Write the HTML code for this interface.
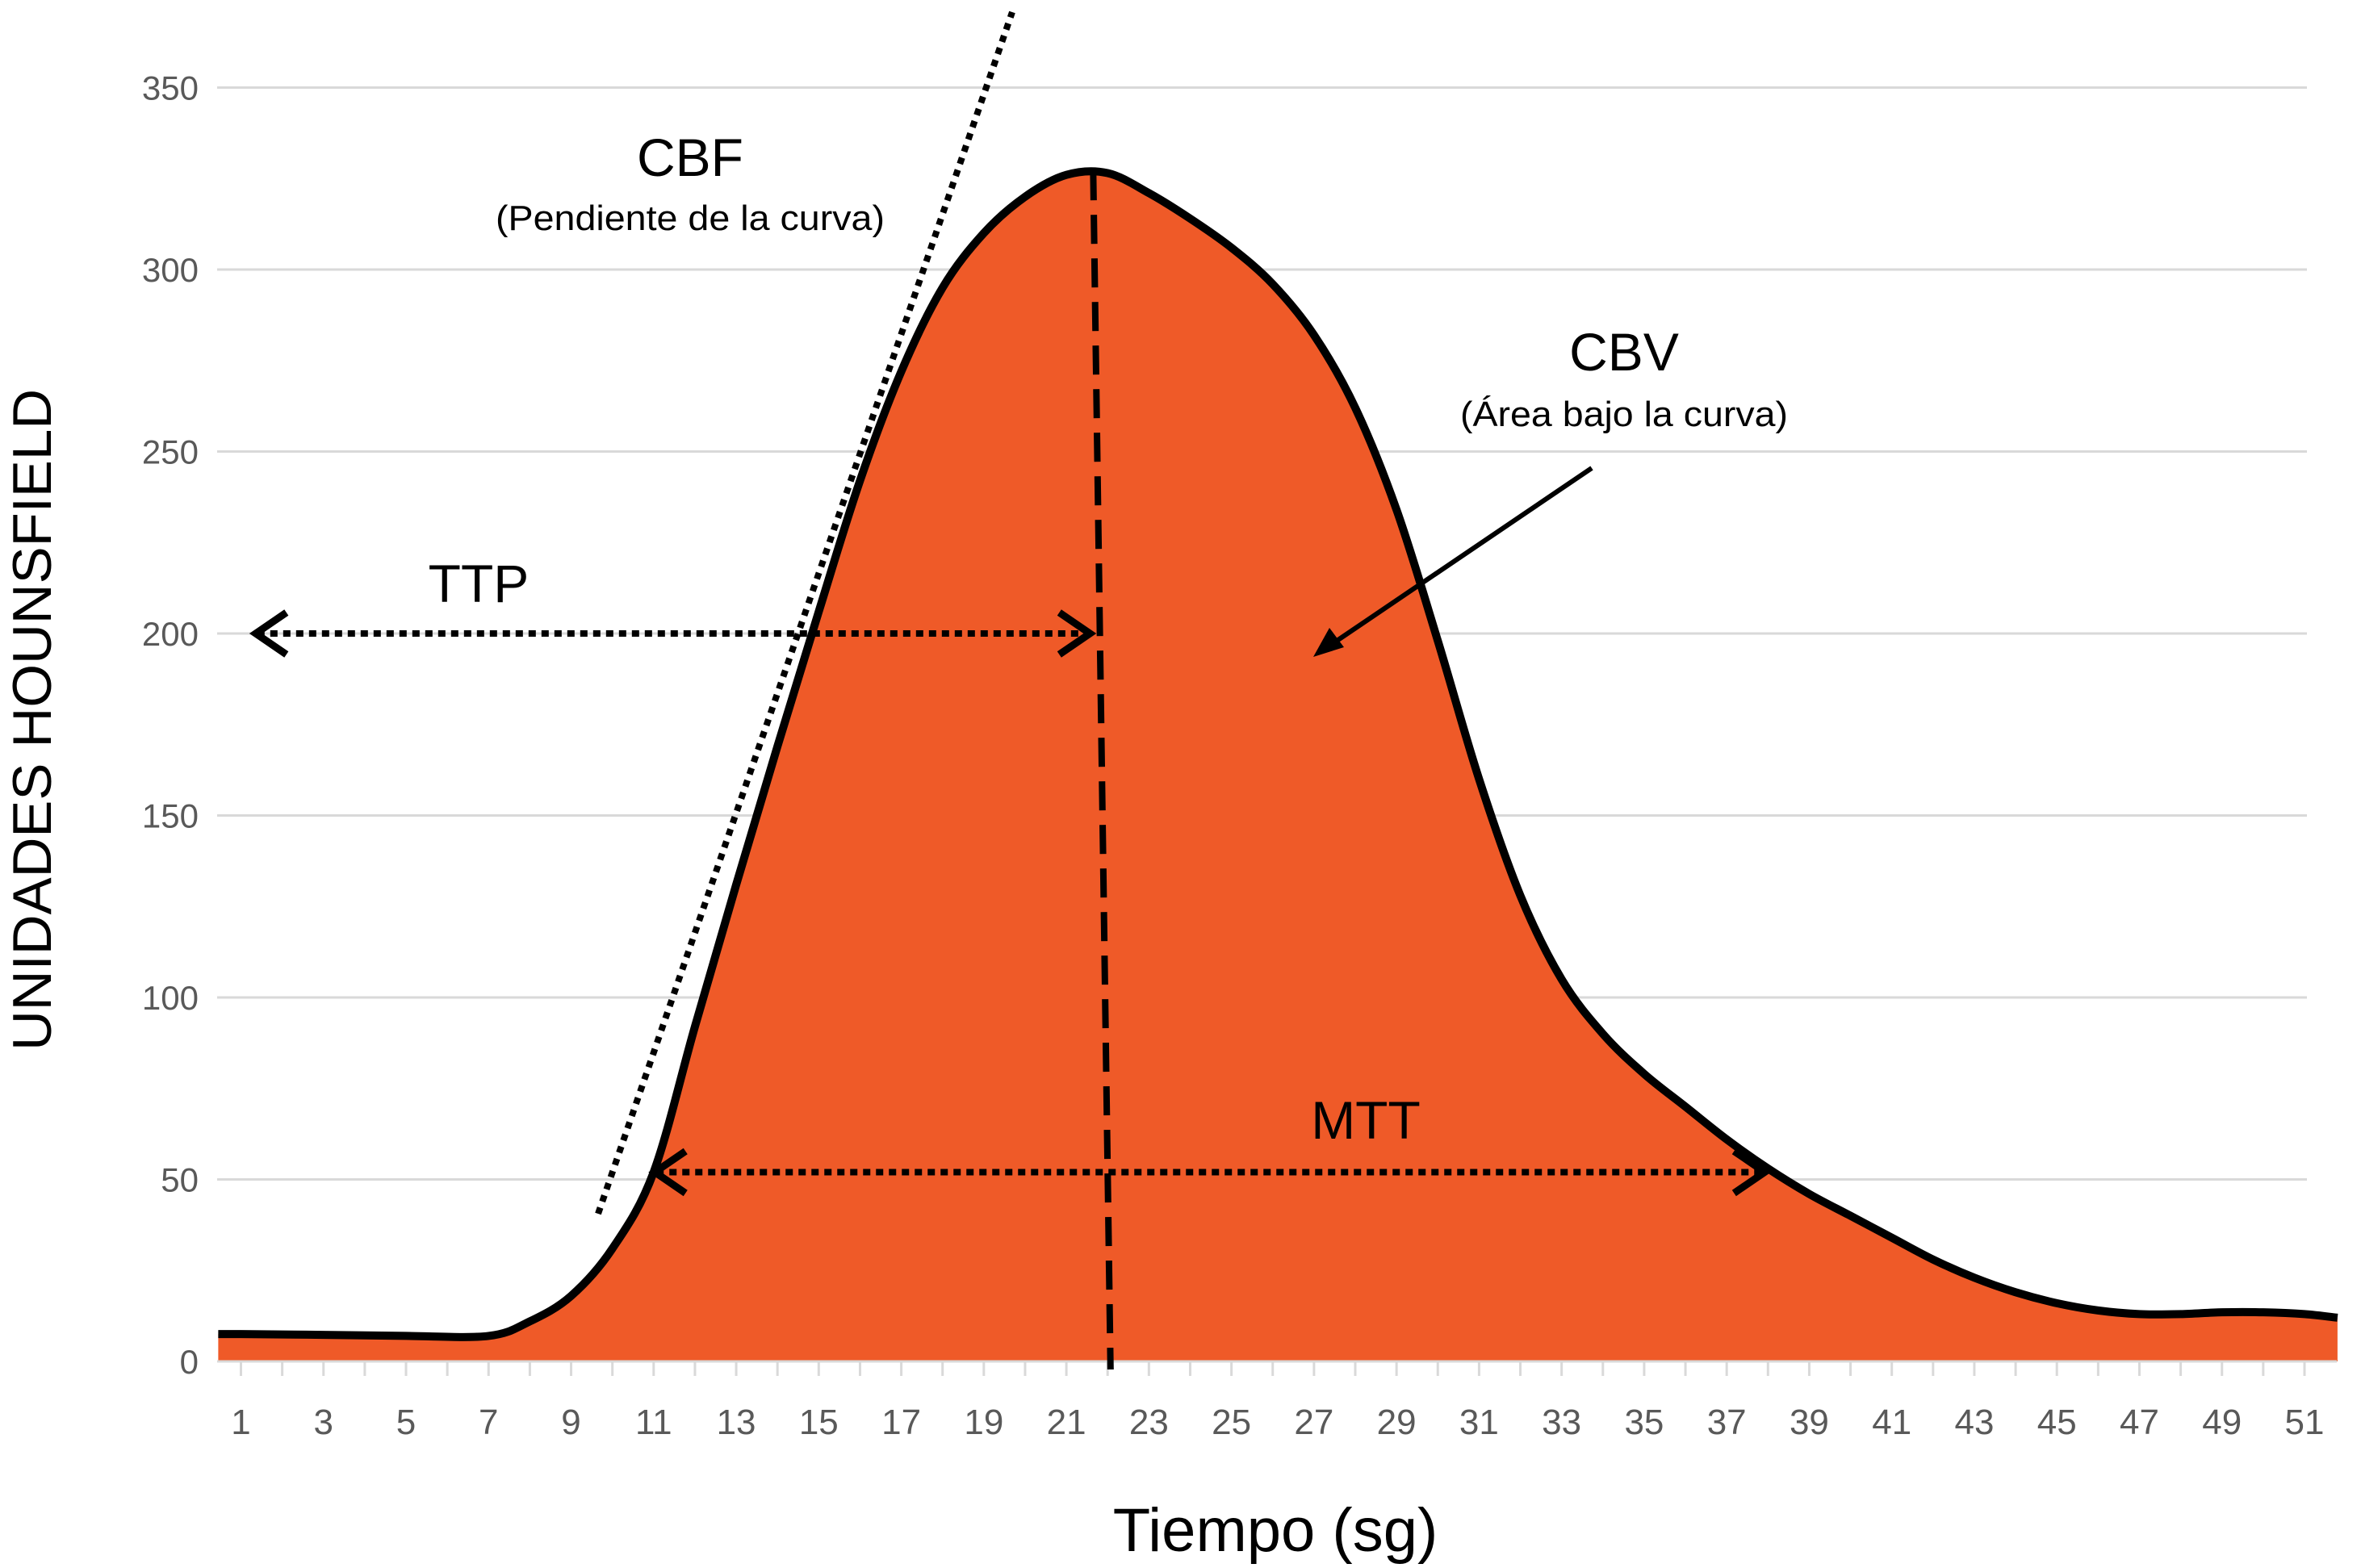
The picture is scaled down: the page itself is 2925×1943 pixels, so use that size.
<!DOCTYPE html>
<html><head><meta charset="utf-8">
<style>
html,body{margin:0;padding:0;background:#fff;}
svg{display:block;font-family:"Liberation Sans",sans-serif;}
</style></head>
<body>
<svg id="chart" width="2925" height="1943" viewBox="0 0 2925 1943" xmlns="http://www.w3.org/2000/svg">
<g id="grid"></g>
<g id="area"></g>
<g id="yticks"></g>
<g id="xticks"></g>
<g id="annot"></g>
<text x="0" y="0" transform="translate(63,892) rotate(-90)" text-anchor="middle" font-size="68" fill="#000" textLength="820" lengthAdjust="spacingAndGlyphs">UNIDADES HOUNSFIELD</text>
<text x="1580" y="1922" text-anchor="middle" font-size="76" fill="#000">Tiempo (sg)</text>
</svg>
<script>
const yTicks = [0, 50, 100, 150, 200, 250, 300, 350];
const xLabels = [1,3,5,7,9,11,13,15,17,19,21,23,25,27,29,31,33,35,37,39,41,43,45,47,49,51];
const times = [0.45,1,3,5,7,8,9,10,11,12,13,14,15,16,17,18,19,20,21,22,23,24,25,26,27,28,29,30,31,32,33,34,35,36,37,38,39,40,41,42,43,44,45,46,47,48,49,50,51,51.8];
const hu = [7.5,7.5,7.3,7,7,11,18,31,52,92,131,169,206,242,272,295,310,320,326,326.5,321,314,306,296,282,262,234,198,160,128,105,90,79,70,61,53,46,40,34,28,23,19,16,14,13,13,13.5,13.5,13,12];
const peakTime = [21.65, 22.07];
const ttpRange = [1.28, 21.65];
const mttRange = [10.95, 38.0];
const ttpLevel = [200];
const mttLevel = [52];

const NS = "http://www.w3.org/2000/svg";
const X0 = 298.5, DX = 51.13, Y0 = 1687, DY = 4.51;
const xs = t => X0 + (t - 1) * DX;
const ys = v => Y0 - v * DY;
function mk(tag, attrs, parent){ const e = document.createElementNS(NS, tag); for (const k in attrs) e.setAttribute(k, attrs[k]); parent.appendChild(e); return e; }

const grid = document.getElementById('grid');
yTicks.forEach(v => {
  if (v === 0) return;
  const l = mk('line', {x1:269, x2:2858, y1:ys(v), y2:ys(v), stroke:'#d9d9d9', 'stroke-width':3}, grid);
  
  
});
const yt = document.getElementById('yticks');
yTicks.forEach(v => {
  const t = mk('text', {x:246, y:ys(v)+15, 'text-anchor':'end', 'font-size':42, fill:'#595959'}, yt);
  t.textContent = v;
  
  
});
const xt = document.getElementById('xticks');
mk('line', {x1:269, x2:2895, y1:Y0, y2:Y0, stroke:'#d9d9d9', 'stroke-width':3}, xt);
for (let t = 1; t <= 51; t++) {
  mk('line', {x1:xs(t), x2:xs(t), y1:Y0, y2:Y0+18, stroke:'#d9d9d9', 'stroke-width':3}, xt);
}
xLabels.forEach(t => {
  const e = mk('text', {x:xs(t), y:1777, 'text-anchor':'middle', 'font-size':44, fill:'#595959'}, xt);
  e.textContent = t;
  
  
});

const pts = times.map((t,i) => [xs(t), ys(hu[i])]);
let d = 'M' + pts[0][0] + ',' + pts[0][1];
for (let i = 0; i < pts.length - 1; i++) {
  const p0 = pts[Math.max(0,i-1)], p1 = pts[i], p2 = pts[i+1], p3 = pts[Math.min(pts.length-1,i+2)];
  const c1 = [p1[0] + (p2[0]-p0[0])/6, p1[1] + (p2[1]-p0[1])/6];
  const c2 = [p2[0] - (p3[0]-p1[0])/6, p2[1] - (p3[1]-p1[1])/6];
  d += ` C${c1[0]},${c1[1]} ${c2[0]},${c2[1]} ${p2[0]},${p2[1]}`;
}
const area = document.getElementById('area');
const last = pts[pts.length-1];
const fill = mk('path', {d: d + ` L${last[0]},${Y0} L${pts[0][0]},${Y0} Z`, fill:'#ef5a28'}, area);


const line = mk('path', {d: d, fill:'none', stroke:'#000', 'stroke-width':10, 'stroke-linejoin':'round'}, area);



const an = document.getElementById('annot');
const cbf = mk('line', {x1:741, y1:1504, x2:1254, y2:15, stroke:'#000', 'stroke-width':8, 'stroke-dasharray':'8 8'}, an);


const pk = mk('line', {x1:xs(peakTime[0]), y1:ys(327), x2:xs(peakTime[1]), y2:Y0+10, stroke:'#000', 'stroke-width':8, 'stroke-dasharray':'36 18'}, an);


function dArrow(a, b, y, name){
  const g = mk('g', {}, an);
  
  
  mk('line', {x1:a+6, x2:b-6, y1:y, y2:y, stroke:'#000', 'stroke-width':8, 'stroke-dasharray':'9 7'}, g);
  mk('polyline', {points:`${a+42},${y-26} ${a+4},${y} ${a+42},${y+26}`, fill:'none', stroke:'#000', 'stroke-width':9}, g);
  mk('polyline', {points:`${b-42},${y-26} ${b-4},${y} ${b-42},${y+26}`, fill:'none', stroke:'#000', 'stroke-width':9}, g);
}
dArrow(xs(ttpRange[0]), xs(ttpRange[1]), ys(ttpLevel[0]), 'ttp-arrow');
dArrow(xs(mttRange[0]), xs(mttRange[1]), ys(mttLevel[0]), 'mtt-arrow');
const cg = mk('g', {}, an);


mk('line', {x1:1972, y1:580, x2:1640, y2:805, stroke:'#000', 'stroke-width':6}, cg);
mk('polygon', {points:'1627,814 1647,778 1665,802', fill:'#000'}, cg);

function txt(x,y,s,size,name,len){
  const a = {x:x, y:y, 'text-anchor':'middle', 'font-size':size, fill:'#000'};
  if (len) { a.textLength = len; a.lengthAdjust = 'spacingAndGlyphs'; }
  const e = mk('text', a, an);
  e.textContent = s;
  
  
}
txt(855,218,'CBF',66,'cbf-label');
txt(855,285,'(Pendiente de la curva)',44,'cbf-sublabel',482);
txt(2012,459,'CBV',66,'cbv-label');
txt(2012,528,'(Área bajo la curva)',44,'cbv-sublabel',406);
txt(593,746,'TTP',66,'ttp-label');
txt(1692,1411,'MTT',66,'mtt-label');
</script>
</body></html>
